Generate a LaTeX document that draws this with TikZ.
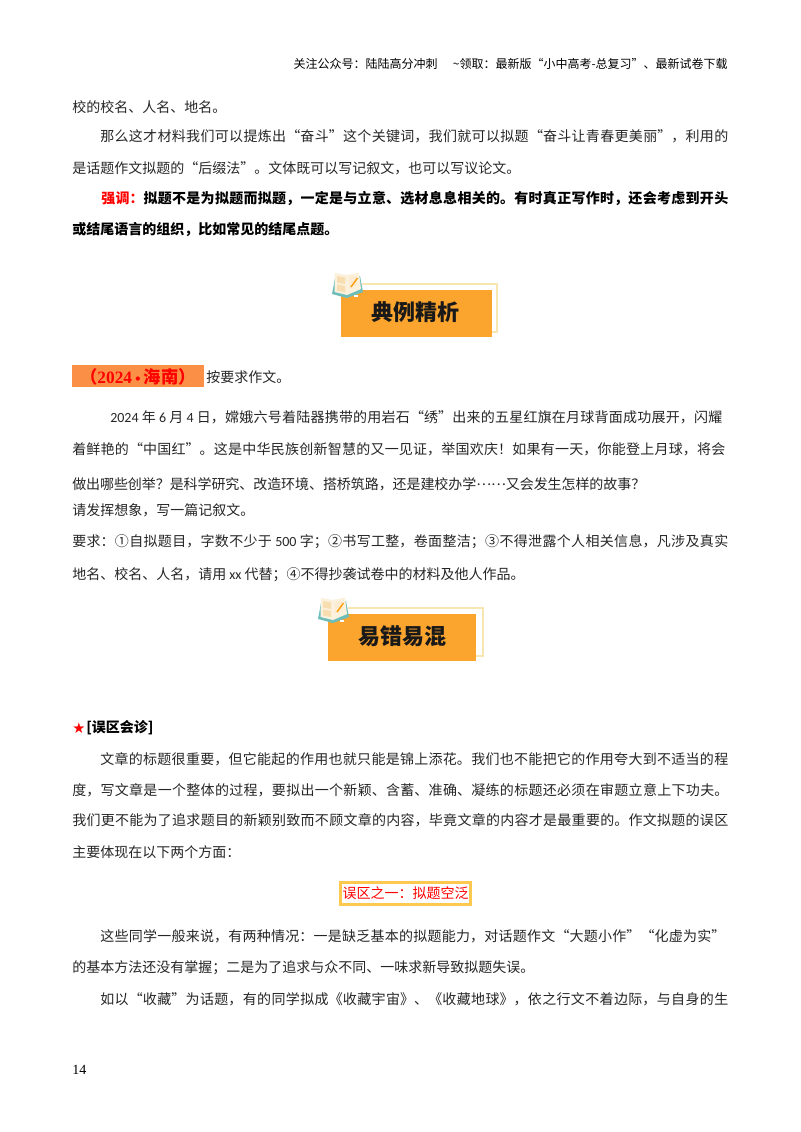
\documentclass[tikz,border=0pt]{standalone}
\usepackage{fontspec}
\setmainfont{Noto Sans CJK SC}
\newfontfamily\latf{Carlito}
\newfontfamily\timf{Liberation Serif}
\newfontfamily\symf{DejaVu Sans}
\XeTeXlinebreaklocale "zh"
\XeTeXlinebreakskip=0pt plus 3pt minus 0.6pt
\newcommand{\cma}{^^^^ff0c}
\newcommand{\cln}{^^^^ff1a}
\newcommand{\scn}{^^^^ff1b}
\newcommand{\qst}{^^^^ff1f}
\newcommand{\exc}{^^^^ff01}
\newcommand{\lpr}{^^^^ff08}
\newcommand{\rpr}{^^^^ff09}
\definecolor{bannerorange}{HTML}{FBA52F}
\definecolor{bannerline}{HTML}{F8E6B0}
\definecolor{tagorange}{HTML}{FB8F45}
\definecolor{boxyellow}{HTML}{FFC94F}
\definecolor{bodyink}{HTML}{262626}
\definecolor{bookteal}{HTML}{6DBDBB}
\definecolor{pagecream}{HTML}{FBF1DC}
\definecolor{pageblock}{HTML}{F8DDB0}
\newcounter{ln}
% justified line: x, y, width, text
\newcommand{\jline}[4]{\stepcounter{ln}\node[jst,text width=#3*0.75pt] (j\theln) at (#1,#2) {\parfillskip=0pt #4\par};}
% natural-width line: x, y, text
\newcommand{\nline}[3]{\stepcounter{ln}\node[nat] (n\theln) at (#1,#2) {#3};}
\newcommand{\bookicon}[2]{%
 \begin{scope}[shift={(#1,#2)}]
  \fill[bookteal] (0,22) -- (3,6) -- (15,8) -- (28,4) -- (31,20) -- (15,26) -- cycle;
  \fill[white] (6,24.5) rectangle (9,26.5);
  \fill[white] (22,23) rectangle (26,25);
  \fill[pagecream] (2.5,20) -- (3,1) -- (15,3) -- (15,23) -- cycle;
  \fill[pagecream] (15,3) -- (27,0.5) -- (29,17) -- (15,23) -- cycle;
  \fill[pageblock] (5,4) -- (13,5.5) -- (13,12) -- (5,10.5) -- cycle;
  \fill[pageblock] (5,12.5) -- (13,14) -- (13,20) -- (5,18.5) -- cycle;
  \fill[pageblock!60!white] (17,5) -- (24,3.5) -- (25,13) -- (17,16) -- cycle;
  \draw[orange!80!yellow,line width=1pt] (19,15) -- (25.5,6);
 \end{scope}}
\tikzset{
 x=0.75pt,y=-0.75pt,
 jst/.style={anchor=west,inner sep=0pt,align=justify,font=\fontsize{10.5pt}{12pt}\selectfont,text=bodyink},
 nat/.style={anchor=west,inner sep=0pt,font=\fontsize{10.5pt}{12pt}\selectfont,text=bodyink},
 bannerbox/.style={fill=bannerorange,draw=none},
 bannerframe/.style={draw=bannerline,line width=0.9pt},
 bannertext/.style={inner sep=0pt,font=\fontsize{16.5pt}{18pt}\bfseries\selectfont,text=black!90},
}
\begin{document}
\begin{tikzpicture}
\useasboundingbox (0,0) rectangle (800,1132);
\fill[white] (0,0) rectangle (800,1132);
% header
\node[anchor=east,inner sep=0pt,font=\fontsize{9pt}{10pt}\selectfont,text=black] (hdr) at (728,64) {关注公众号\cln{}陆陆高分冲刺\hspace{11.5pt}\textasciitilde 领取\cln{}最新版“小中高考-总复习”、最新试卷下载};
% top text
\nline{72}{107}{校的校名、人名、地名。}
\jline{100}{136}{628}{那么这才材料我们可以提炼出“奋斗”这个关键词\cma{}我们就可以拟题“奋斗让青春更美丽”\cma{}利用的}
\nline{72}{168}{是话题作文拟题的“后缀法”。文体既可以写记叙文\cma{}也可以写议论文。}
\jline{101}{198}{627}{\bfseries\textcolor{red}{强调\cln{}}\textcolor{black}{拟题不是为拟题而拟题\cma{}一定是与立意、选材息息相关的。有时真正写作时\cma{}还会考虑到开头}}
\nline{72}{230}{\bfseries\textcolor{black}{或结尾语言的组织\cma{}比如常见的结尾点题。}}
% banner 1
\draw[bannerframe] (362,284) -- (497,284) -- (497,332) -- (492,332);
\fill[bannerbox] (341,290) rectangle (492,337);
\bookicon{332}{272}
\node[bannertext] (b1) at (415,312) {典例精析};
% exam tag
\fill[tagorange] (72,365) rectangle (204,387);
\node[inner sep=0pt,anchor=center,text=red,font=\fontsize{13pt}{15pt}\bfseries\selectfont] (tag) at (138,376.5) {\lpr{}{\timf\bfseries 2024}{\symf\fontsize{9pt}{9pt}\selectfont\bfseries\,•\,}海南\rpr{}};
\nline{206}{377}{按要求作文。}
% prompt
\jline{110}{417}{612}{{\latf 2024} 年 {\latf 6} 月 {\latf 4} 日\cma{}嫦娥六号着陆器携带的用岩石“绣”出来的五星红旗在月球背面成功展开\cma{}闪耀}
\jline{72}{449}{653}{着鲜艳的“中国红”。这是中华民族创新智慧的又一见证\cma{}举国欢庆\exc{}如果有一天\cma{}你能登上月球\cma{}将会}
\jline{72}{484}{573}{做出哪些创举\qst{}是科学研究、改造环境、搭桥筑路\cma{}还是建校办学\raisebox{0.3em}{……}又会发生怎样的故事\qst{}}
\nline{72}{510}{请发挥想象\cma{}写一篇记叙文。}
\jline{72}{542}{656}{要求\cln{}①自拟题目\cma{}字数不少于 {\latf 500} 字\scn{}②书写工整\cma{}卷面整洁\scn{}③不得泄露个人相关信息\cma{}凡涉及真实}
\nline{72}{575}{地名、校名、人名\cma{}请用 {\latf xx} 代替\scn{}④不得抄袭试卷中的材料及他人作品。}
% banner 2
\draw[bannerframe] (348,608) -- (483,608) -- (483,656) -- (476,656);
\fill[bannerbox] (328,614) rectangle (476,661);
\bookicon{318}{597}
\node[bannertext] (b2) at (402,636) {易错易混};
% section heading
\node[inner sep=0pt,anchor=west,text=red,font=\fontsize{11pt}{12pt}\symf\selectfont] (star) at (72,728) {★};
\node[inner sep=0pt,anchor=west,font=\fontsize{10.5pt}{12pt}\bfseries\selectfont,text=black] (sec) at (86,728) {[误区会诊]};
\jline{100}{759}{628}{文章的标题很重要\cma{}但它能起的作用也就只能是锦上添花。我们也不能把它的作用夸大到不适当的程}
\jline{72}{790}{656}{度\cma{}写文章是一个整体的过程\cma{}要拟出一个新颖、含蓄、准确、凝练的标题还必须在审题立意上下功夫。}
\jline{72}{820}{656}{我们更不能为了追求题目的新颖别致而不顾文章的内容\cma{}毕竟文章的内容才是最重要的。作文拟题的误区}
\nline{72}{852}{主要体现在以下两个方面\cln{}}
% callout
\node[draw=boxyellow,line width=1.6pt,inner sep=0pt,minimum width=130*0.75pt,minimum height=22*0.75pt,text=red,font=\fontsize{10.5pt}{12pt}\selectfont] (callout) at (405.5,893.5) {误区之一\cln{}拟题空泛};
% closing text
\jline{100}{936}{625}{这些同学一般来说\cma{}有两种情况\cln{}一是缺乏基本的拟题能力\cma{}对话题作文“大题小作”“化虚为实”}
\nline{72}{968}{的基本方法还没有掌握\scn{}二是为了追求与众不同、一味求新导致拟题失误。}
\jline{100}{999}{628}{如以“收藏”为话题\cma{}有的同学拟成《收藏宇宙》、《收藏地球》\cma{}依之行文不着边际\cma{}与自身的生}
% page number
\node[inner sep=0pt,anchor=west,font=\fontsize{10.5pt}{12pt}\timf\selectfont,text=black] (pg) at (72,1070) {14};
\end{tikzpicture}
\end{document}
